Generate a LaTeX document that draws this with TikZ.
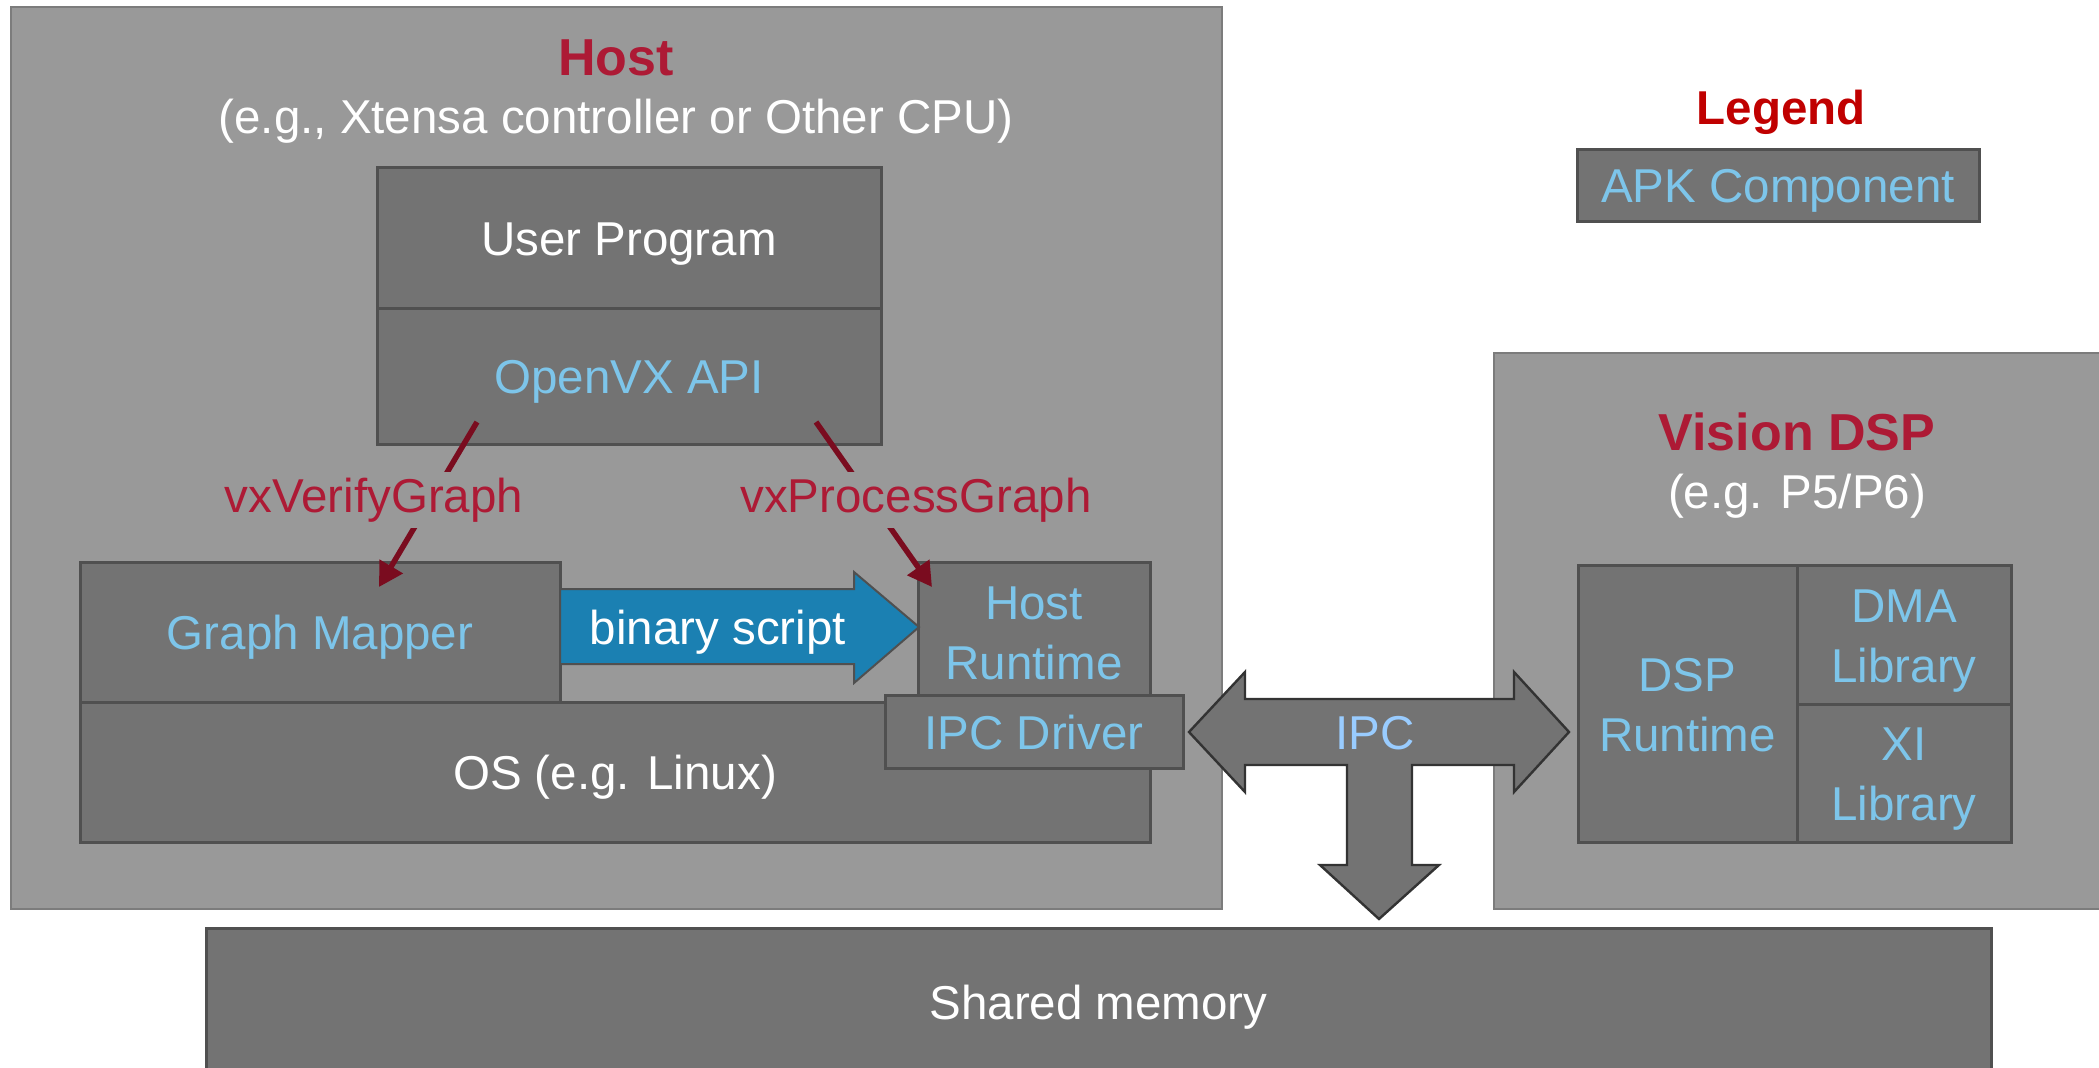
\documentclass[tikz,border=0pt]{standalone}
\usepackage{fontspec}
\setmainfont{Liberation Sans}
\usetikzlibrary{arrows.meta}

\definecolor{hostgray}{HTML}{999999}
\definecolor{hostrim}{HTML}{7C7C7C}
\definecolor{apkgray}{HTML}{737373}
\definecolor{apkrim}{HTML}{505050}
\definecolor{apkblue}{HTML}{7DC5EA}
\definecolor{ipcblue}{HTML}{99CCFF}
\definecolor{scriptblue}{HTML}{1B80B2}
\definecolor{titlered}{HTML}{AD1A35}
\definecolor{legendred}{HTML}{C00000}
\definecolor{callred}{HTML}{7A0C1F}

\begin{document}
\begin{tikzpicture}
% one unit is one pixel of the 2099 x 1067 canvas, y grows downwards
\def\px{0.5pt}
\providecommand{\apkRimWidth}{1.5pt}
\providecommand{\hostRimWidth}{1pt}
\begin{scope}[x=\px, y=-\px, line join=miter,
  every node/.style={font=\fontsize{23.75}{30}\selectfont, inner sep=0pt, outer sep=0pt},
  oneline/.style={text height=17.5pt, text depth=0pt},
  twoline/.style={text height=47.5pt, text depth=0pt},
  container/.style={draw=hostrim, line width=\hostRimWidth, fill=hostgray, anchor=north west},
  box/.style={draw=apkrim, line width=\apkRimWidth, fill=apkgray, anchor=north west, text=white, align=center},
  apk/.style={box, text=apkblue},
  title/.style={text=titlered, font=\fontsize{26}{30}\selectfont\bfseries},
  calllabel/.style={fill=hostgray, text=titlered, inner xsep=2pt, inner ysep=3pt},
  callarrow/.style={draw=callred, line width=2.75pt, -{Triangle[length=12pt, width=13pt]}}]
  \path[use as bounding box, clip] (0,0) rectangle (2099,1067);

  % Processors and memory
  \node[container, minimum width=1211*\px, minimum height=902*\px] (host) at (11,7) {};
  \node[container, minimum width=606*\px, minimum height=556*\px] (dsp) at (1494,353) {};
  \node[box, oneline, minimum width=1785*\px, minimum height=148*\px] (shmem) at (206,928) {Shared memory};

  % Titles
  \node[title, anchor=base] (hosttitle) at (616,75) {Host};
  \node[text=white, anchor=base] (hostsub) at (616,133) {(e.g., Xtensa controller or Other CPU)};
  \node[title, anchor=base] (dsptitle) at (1797,450) {Vision DSP};
  \node[text=white, anchor=base] (dspsub) at (1797,508) {(e.g. P5/P6)};

  % Legend
  \node[anchor=base, text=legendred, font=\fontsize{23.75}{30}\selectfont\bfseries] (legend) at (1781,124) {Legend};
  \node[apk, oneline, minimum width=402*\px, minimum height=72*\px] (legendbox) at (1577,149) {APK Component};

  % Host side
  \node[box, oneline, minimum width=504*\px, minimum height=141*\px] (userprog) at (377,167) {User Program};
  \node[apk, oneline, minimum width=504*\px, minimum height=136*\px] (api) at (377,308) {OpenVX API};
  \node[apk, oneline, minimum width=480*\px, minimum height=140*\px] (mapper) at (80,562) {Graph Mapper};
  \node[box, oneline, minimum width=1070*\px, minimum height=140*\px] (os) at (80,702) {OS (e.g. Linux)};
  \node[apk, twoline, minimum width=232*\px, minimum height=140*\px] (hostrt) at (918,562) {Host\\Runtime};
  \node[apk, oneline, minimum width=298*\px, minimum height=73*\px] (ipcdrv) at (885,695) {IPC Driver};

  % DSP side
  \node[apk, twoline, minimum width=219*\px, minimum height=277*\px] (dsprt) at (1578,565) {DSP\\Runtime};
  \node[apk, twoline, minimum width=214*\px, minimum height=139*\px] (dma) at (1797,565) {DMA\\Library};
  \node[apk, twoline, minimum width=214*\px, minimum height=138*\px] (xi) at (1797,704) {XI\\Library};

  % binary script handed from the mapper to the runtime
  \draw[draw=apkrim, line width=1pt, fill=scriptblue]
    (560,589) -- (854,589) -- (854,572) -- (919,627) -- (854,683) -- (854,664) -- (560,664) -- cycle;
  \node[oneline, text=white] (script) at (718,627) {binary script};

  % IPC between host, DSP and shared memory
  \draw[draw=black!80, line width=1.2pt, fill=apkgray]
    (1189,732) -- (1245,672) -- (1245,699) -- (1514,699) -- (1514,672) -- (1569,732)
    -- (1514,792) -- (1514,765) -- (1412,765) -- (1412,865) -- (1439,865) -- (1379,919)
    -- (1320,865) -- (1347,865) -- (1347,765) -- (1245,765) -- (1245,792) -- cycle;
  \node[oneline, text=ipcblue] (ipc) at (1375,732) {IPC};

  % API calls
  \coordinate (verifyfrom) at (477,422);
  \coordinate (verifyto) at (379,587);
  \coordinate (processfrom) at (816,422);
  \coordinate (processto) at (932,587);
  \draw[callarrow] (verifyfrom) -- (verifyto);
  \draw[callarrow] (processfrom) -- (processto);
  \node[calllabel, anchor=base] (verify) at (374,512) {vxVerifyGraph};
  \node[calllabel, anchor=base] (process) at (916,512) {vxProcessGraph};
\end{scope}
\end{tikzpicture}
\end{document}
